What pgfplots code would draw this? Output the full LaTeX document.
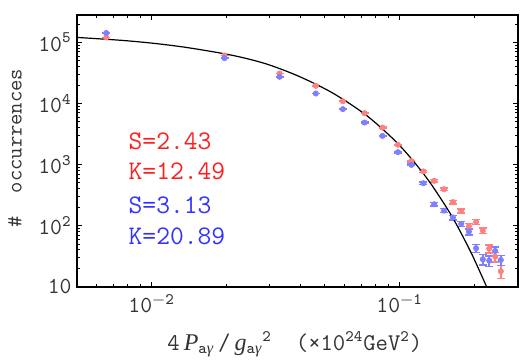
\documentclass[border=0pt]{standalone}
\usepackage{fontspec}
\newfontfamily\tms{Liberation Serif}
\usepackage{pgfplots}
\usepackage{pgfplotstable}
\pgfplotsset{compat=1.18}

\definecolor{redpt}{RGB}{255,128,128}
\definecolor{bluept}{RGB}{128,128,255}
\definecolor{redtxt}{RGB}{255,30,30}
\definecolor{bluetxt}{RGB}{50,50,255}

% bin centre, count, sqrt(count)
\pgfplotstableread{
x        y       e
0.00656  121000  348
0.01968  61200   247
0.03280  31000   176
0.04592  19500   140
0.05904  10900   104
0.07216  6960    83
0.08528  4040    64
0.09840  2110    46
0.11152  1140    34
0.12464  774     28
0.13776  541     23
0.15088  395     20
0.16400  243     16
0.17712  174     13
0.19024  97.8    10
0.20336  115     11
0.21648  82.8    9
0.22960  42.0    6.5
0.24272  31.0    5.6
0.25584  17.9    4.2
}\reddata

\pgfplotstableread{
x        y       e
0.00656  143000  378
0.01968  55500   236
0.03280  27400   166
0.04592  14600   121
0.05904  8100    90
0.07216  4880    70
0.08528  2950    54
0.09840  1600    40
0.11152  988     31
0.12464  495     22
0.13776  224     15
0.15088  176     13
0.16400  136     12
0.17712  107     10
0.19024  79.8    9
0.20336  42.7    6.5
0.21648  28.1    5.3
0.22960  26.7    5.2
0.24272  38.5    6.2
0.25584  27.4    5.2
}\bluedata

\begin{document}
\begin{tikzpicture}
\begin{axis}[
    name=ax,
    scale only axis,
    width=220.5pt, height=136pt,
    xmode=log, ymode=log,
    xmin=0.005, xmax=0.3,
    ymin=10, ymax=2.85e5,
    xtick={0.01,0.1},
    xticklabels={10\textsuperscript{$-$2},10\textsuperscript{$-$1}},
    minor xtick={0.006,0.007,0.008,0.009,0.02,0.03,0.04,0.05,0.06,0.07,0.08,0.09,0.2,0.3},
    ytick={10,100,1000,10000,100000},
    yticklabels={10,10\textsuperscript{2},10\textsuperscript{3},10\textsuperscript{4},10\textsuperscript{5}},
    minor ytick={20,30,40,50,60,70,80,90,200,300,400,500,600,700,800,900,
        2000,3000,4000,5000,6000,7000,8000,9000,
        20000,30000,40000,50000,60000,70000,80000,90000,200000},
    tick align=inside,
    major tick length=2.6pt,
    minor tick length=1.5pt,
    every tick/.style={black, line width=0.5pt},
    axis line style={line width=0.9pt},
    tick label style={font=\ttfamily\fontsize{11.5}{13}\selectfont, black!80},
    yticklabel style={inner sep=0pt, xshift=-2.5pt},
    xticklabel style={inner sep=0pt, yshift=-3.5pt},
    xlabel={4\,{\tms\itshape P}\textsubscript{a{\tms\itshape γ}}\,/\,{\tms\itshape g}\textsubscript{a{\tms\itshape γ}}\textsuperscript{2}\quad(×10\textsuperscript{24}GeV\textsuperscript{2})},
    xlabel style={at={(axis description cs:0.494,-0.233)}, anchor=base,
        font=\ttfamily\fontsize{12}{14}\selectfont, black!80},
    ylabel={\#\ \ occurrences},
    ylabel style={at={(axis description cs:-0.1406,0.51)}, anchor=center,
        font=\ttfamily\fontsize{11}{13}\selectfont, black!80},
]
\addplot[only marks, color=redpt, mark=*, mark size=1.3pt,
    error bars/.cd, y dir=both, y explicit,
    error bar style={line width=0.7pt},
    error mark options={rotate=90, mark size=2pt, line width=0.7pt}]
    table[x=x, y=y, y error=e] {\reddata};
\addplot[only marks, color=bluept, mark=*, mark size=1.3pt,
    error bars/.cd, y dir=both, y explicit,
    error bar style={line width=0.7pt},
    error mark options={rotate=90, mark size=2pt, line width=0.7pt}]
    table[x=x, y=y, y error=e] {\bluedata};
\addplot[black, line width=0.6pt, smooth] coordinates {
    (0.0050,121000) (0.0076,108200) (0.0104,96000) (0.0142,81500)
    (0.0212,61500) (0.0290,44500) (0.0395,27600) (0.0538,14800)
    (0.0734,6420) (0.0955,2490) (0.1132,1160) (0.1322,516)
    (0.1543,200) (0.1694,105) (0.1948,35.1) (0.2239,10.1) (0.2350,6.3)
};
\node[anchor=west, inner sep=0pt, text=redtxt, font=\ttfamily\fontsize{13.4}{15}\selectfont] at (rel axis cs:0.1163,0.5357) {S=2.43};
\node[anchor=west, inner sep=0pt, text=redtxt, font=\ttfamily\fontsize{13.4}{15}\selectfont] at (rel axis cs:0.1163,0.4254) {K=12.49};
\node[anchor=west, inner sep=0pt, text=bluetxt, font=\ttfamily\fontsize{13.4}{15}\selectfont] at (rel axis cs:0.1163,0.3004) {S=3.13};
\node[anchor=west, inner sep=0pt, text=bluetxt, font=\ttfamily\fontsize{13.4}{15}\selectfont] at (rel axis cs:0.1163,0.1864) {K=20.89};
\end{axis}
\path ([xshift=-38.5pt,yshift=-34.65pt]ax.south west) rectangle ([xshift=3.5pt,yshift=7.35pt]ax.north east);
\end{tikzpicture}
\end{document}
